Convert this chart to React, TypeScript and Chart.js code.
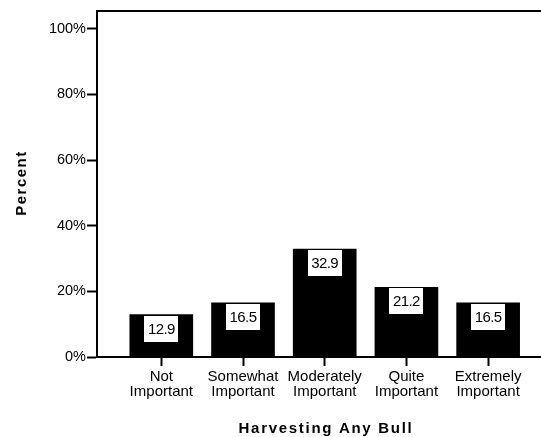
import React, { useEffect, useRef } from "react";
import { Chart, registerables } from "chart.js";

Chart.register(...registerables);

const categories: string[][] = [
  ["Not", "Important"],
  ["Somewhat", "Important"],
  ["Moderately", "Important"],
  ["Quite", "Important"],
  ["Extremely", "Important"],
];
const percents: number[] = [12.9, 16.5, 32.9, 21.2, 16.5];
const yTicks: number[] = [0, 20, 40, 60, 80, 100];
const xTitle = "Harvesting Any Bull";
const yTitle = "Percent";

const FONT = "'Liberation Sans', Arial, sans-serif";

const framePlugin = {
  id: "frameAndLabels",
  afterDatasetsDraw(chart: any) {
    const { ctx, chartArea } = chart;
    ctx.save();
    // top frame line
    ctx.strokeStyle = "#000";
    ctx.lineWidth = 2;
    ctx.beginPath();
    ctx.moveTo(chartArea.left - 1, chartArea.top);
    ctx.lineTo(chartArea.right, chartArea.top);
    ctx.stroke();

    // value boxes
    const meta = chart.getDatasetMeta(0);
    meta.data.forEach((bar: any, i: number) => {
      const w = 34;
      const h = 26;
      const x = Math.round(bar.x - w / 2);
      const y = Math.round(bar.y + 1);
      ctx.fillStyle = "#fff";
      ctx.fillRect(x, y, w, h);
      ctx.fillStyle = "#000";
      ctx.font = `15px ${FONT}`;
      (ctx as any).letterSpacing = "-0.6px";
      ctx.textAlign = "center";
      ctx.textBaseline = "middle";
      ctx.fillText(percents[i].toFixed(1), bar.x, y + h / 2 + 1);
    });

    // axis titles
    ctx.fillStyle = "#000";
    ctx.font = `bold 15px ${FONT}`;
    (ctx as any).letterSpacing = "1.7px";
    ctx.textAlign = "center";
    ctx.textBaseline = "middle";
    ctx.fillText(xTitle, 326, 429);
    ctx.save();
    ctx.translate(22, 183);
    ctx.rotate(-Math.PI / 2);
    (ctx as any).letterSpacing = "1.5px";
    ctx.fillText(yTitle, 0, 0);
    ctx.restore();
    ctx.restore();
  },
};

export default function App() {
  const ref = useRef<HTMLCanvasElement | null>(null);
  useEffect(() => {
    if (!ref.current) return;
    const chart = new Chart(ref.current, {
      type: "bar",
      data: {
        datasets: [
          {
            data: percents.map((v, i) => ({ x: i, y: v })),
            backgroundColor: "#000",
            borderWidth: 0,
            barThickness: 63,
          } as any,
        ],
      },
      options: {
        animation: false,
        responsive: false,
        devicePixelRatio: 1,
        layout: { padding: { top: 11, left: 0, right: 0, bottom: 0 } },
        plugins: {
          legend: { display: false },
          tooltip: { enabled: false },
        },
        font: { family: FONT },
        color: "#000",
        scales: {
          x: {
            type: "linear",
            offset: false,
            min: -0.787,
            max: 4.647,
            grid: {
              display: true,
              offset: false,
              drawOnChartArea: false,
              drawTicks: true,
              tickLength: 9,
              tickWidth: 2,
              tickColor: "#000",
            },
            border: { display: true, color: "#000", width: 2 },
            afterBuildTicks: (scale: any) => {
              scale.ticks = categories.map((_, i) => ({ value: i }));
            },
            afterFit: (scale: any) => {
              scale.height = 80;
            },
            ticks: {
              autoSkip: false,
              maxRotation: 0,
              minRotation: 0,
              padding: 3,
              color: "#000",
              font: { family: FONT, size: 15, lineHeight: 1.0 },
              callback: (_v: any, i: number) => categories[i],
            },
          },
          y: {
            type: "linear",
            min: 0,
            max: 105.4,
            grid: {
              display: true,
              drawOnChartArea: false,
              drawTicks: true,
              tickLength: 10,
              tickWidth: 2,
              tickColor: "#000",
            },
            border: { display: true, color: "#000", width: 2 },
            afterBuildTicks: (scale: any) => {
              scale.ticks = yTicks.map((v) => ({ value: v }));
            },
            afterFit: (scale: any) => {
              scale.width = 97;
            },
            ticks: {
              padding: 1,
              color: "#000",
              font: { family: FONT, size: 14.5 },
              callback: (v: any) => `${v}%`,
            },
          },
        },
      } as any,
      plugins: [framePlugin],
    });
    return () => chart.destroy();
  }, []);
  return (
    <div style={{ position: "absolute", left: 0, top: 0, width: 541, height: 437, background: "#fff" }}>
      <canvas ref={ref} width={541} height={437} style={{ width: 541, height: 437, display: "block" }} />
    </div>
  );
}
